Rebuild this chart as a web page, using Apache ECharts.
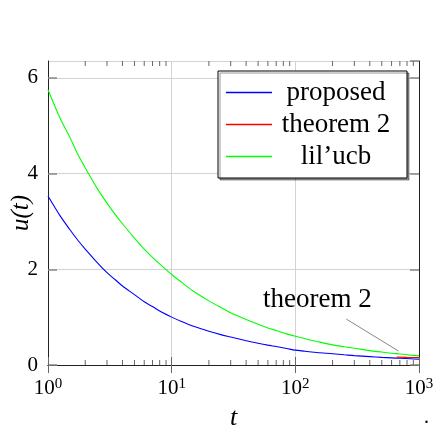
<!DOCTYPE html>
<html>
<head>
<meta charset="utf-8">
<script src="https://cdn.jsdelivr.net/npm/echarts@6/dist/echarts.min.js"></script>
<style>
  html, body { margin: 0; padding: 0; background: #fff; }
  #main { width: 435px; height: 432px; }
</style>
</head>
<body>
<div id="main"></div>
<script>
var myChart = echarts.init(document.getElementById('main'));

// t values read along the log axis
var tValues = [1, 1.25, 1.5, 1.75, 2, 2.5, 3, 3.5, 4, 5, 6, 7, 8.5, 10, 12, 15, 20, 25, 30, 40, 50, 60, 70, 85,
    100, 120, 150, 200, 250, 300, 400, 500, 600, 700, 850, 1000];
var proposed = [3.53, 3.12, 2.83, 2.60, 2.42, 2.14, 1.93, 1.78, 1.65, 1.47, 1.32, 1.22, 1.09, 1.00, 0.91, 0.81, 0.705, 0.635, 0.585, 0.505, 0.455, 0.415, 0.385, 0.345,
    0.31, 0.288, 0.26, 0.235, 0.213, 0.195, 0.175, 0.16, 0.149, 0.14, 0.129, 0.12];
var lilucb = [5.75, 5.16, 4.76, 4.39, 4.12, 3.69, 3.38, 3.14, 2.95, 2.65, 2.42, 2.25, 2.05, 1.89, 1.73, 1.54, 1.34, 1.20, 1.09, 0.95, 0.85, 0.775, 0.72, 0.65,
    0.60, 0.548, 0.49, 0.42, 0.38, 0.35, 0.30, 0.27, 0.245, 0.23, 0.206, 0.19];
var theoremT = [660, 800, 1000];
var theorem2 = [0.165, 0.16, 0.155];

var xExponents = ['0', '1', '2', '3'];
var yTicks = [0, 2, 4, 6];
var minorTicks = [2, 3, 4, 5, 6, 7, 8, 9, 20, 30, 40, 50, 60, 70, 80, 90, 200, 300, 400, 500, 600, 700, 800, 900];

// annotation "theorem 2" (data coords)
var noteText = [151, 1.36];
var notePin = [[684, 0.29], [258, 0.96]];

var serif = '"Liberation Serif", "DejaVu Serif", serif';

function pairs(xs, ys) {
    return xs.map(function (x, i) { return [x, ys[i]]; });
}

option = {
    animation: false,
    backgroundColor: '#fff',
    grid: {
        left: 48,
        right: 16,
        top: 61,
        bottom: 67,
        containLabel: false,
        outerBoundsMode: 'none'
    },
    legend: {
        orient: 'vertical',
        left: 218,
        top: 71,
        padding: [8, 12, 8, 8],
        icon: 'rect',
        itemWidth: 46,
        itemHeight: 1.5,
        itemGap: 5,
        itemTextGap: 6,
        borderColor: '#000',
        borderWidth: 1,
        borderRadius: 0,
        backgroundColor: '#fff',
        shadowColor: 'rgba(0,0,0,0.4)',
        shadowBlur: 0,
        shadowOffsetX: 2,
        shadowOffsetY: 2,
        data: ['proposed', 'theorem 2', 'lil\u2019ucb'],
        formatter: function (name) { return '{c|' + name + '}'; },
        textStyle: {
            fontFamily: serif,
            fontSize: 27,
            color: '#000',
            rich: {
                c: { width: 118, align: 'center', fontFamily: serif, fontSize: 27, lineHeight: 28 }
            }
        }
    },
    xAxis: [
        {
            type: 'log',
            logBase: 10,
            min: 1,
            max: 1000,
            name: 't',
            nameLocation: 'middle',
            nameGap: 40,
            nameMoveOverlap: false,
            nameTextStyle: { fontFamily: serif, fontStyle: 'italic', fontSize: 26, color: '#000' },
            axisLine: { show: true, lineStyle: { color: '#222', width: 1 } },
            axisTick: { show: true, inside: true, length: 8, lineStyle: { color: '#666' } },
            splitLine: { show: true, lineStyle: { color: '#d3d3d3', width: 1 } },
            axisLabel: {
                margin: 12,
                formatter: function (v, i) { return '{b|10}{s|' + xExponents[i] + '}'; },
                rich: {
                    b: { fontFamily: serif, fontSize: 21, color: '#000', verticalAlign: 'bottom', lineHeight: 22 },
                    s: { fontFamily: serif, fontSize: 15, color: '#000', verticalAlign: 'top', lineHeight: 22, padding: [0, 0, 8, 0] }
                }
            }
        },
        {
            type: 'log',
            logBase: 10,
            min: 1,
            max: 1000,
            position: 'top',
            axisLine: { show: true, lineStyle: { color: '#222', width: 1 } },
            axisTick: { show: true, inside: true, length: 8, lineStyle: { color: '#666' } },
            axisLabel: { show: false },
            splitLine: { show: false }
        }
    ],
    yAxis: [
        {
            type: 'value',
            min: 0,
            max: 6.35,
            interval: 2,
            name: 'u(t)',
            nameLocation: 'middle',
            nameGap: 14,
            nameMoveOverlap: false,
            nameTextStyle: { fontFamily: serif, fontStyle: 'italic', fontSize: 25, color: '#000' },
            axisLine: { show: true, lineStyle: { color: '#222', width: 1 } },
            axisTick: { show: true, inside: true, length: 9, lineStyle: { color: '#888', width: 1.5 } },
            splitLine: { show: true, lineStyle: { color: '#d3d3d3', width: 1 } },
            axisLabel: {
                margin: 10,
                showMaxLabel: false,
                fontFamily: serif,
                fontSize: 21,
                color: '#000',
                formatter: function (v) { return yTicks.indexOf(v) >= 0 ? String(v) : ''; }
            }
        },
        {
            type: 'value',
            min: 0,
            max: 6.35,
            interval: 2,
            position: 'right',
            axisLine: { show: true, lineStyle: { color: '#222', width: 1 } },
            axisTick: { show: true, inside: true, length: 9, lineStyle: { color: '#888', width: 1.5 } },
            axisLabel: { show: false },
            splitLine: { show: false }
        }
    ],
    series: [
        {
            name: 'proposed',
            type: 'line',
            data: pairs(tValues, proposed),
            smooth: 0.3,
            symbol: 'none',
            lineStyle: { color: '#0000ff', width: 1.1 },
            itemStyle: { color: '#0000ff' },
            z: 3
        },
        {
            name: 'theorem 2',
            type: 'line',
            data: pairs(theoremT, theorem2),
            symbol: 'none',
            lineStyle: { color: '#ff0000', width: 1.1 },
            itemStyle: { color: '#ff0000' },
            z: 3,
            markPoint: {
                symbol: 'circle',
                symbolSize: 0,
                silent: true,
                label: {
                    show: true,
                    position: 'inside',
                    formatter: 'theorem 2',
                    fontFamily: serif,
                    fontSize: 27,
                    color: '#000'
                },
                data: [{ coord: noteText }]
            },
            markLine: {
                silent: true,
                symbol: 'none',
                label: { show: false },
                lineStyle: { color: '#888', width: 1, type: 'solid' },
                data: [[{ coord: notePin[0] }, { coord: notePin[1] }]]
            }
        },
        {
            name: 'lil\u2019ucb',
            type: 'line',
            data: pairs(tValues, lilucb),
            smooth: 0.3,
            symbol: 'none',
            lineStyle: { color: '#00ff00', width: 1.1 },
            itemStyle: { color: '#00ff00' },
            z: 3
        },
        {
            // minor ticks of the log axis, top and bottom, drawn inward
            type: 'custom',
            silent: true,
            z: 1,
            data: minorTicks.map(function (v) { return [v, 0]; }),
            renderItem: function (params, api) {
                var p = api.coord([api.value(0), 0]);
                var cs = params.coordSys;
                var yb = cs.y + cs.height;
                var yt = cs.y;
                var st = { stroke: '#666', lineWidth: 1 };
                return {
                    type: 'group',
                    children: [
                        { type: 'line', shape: { x1: p[0], y1: yb, x2: p[0], y2: yb - 5 }, style: st },
                        { type: 'line', shape: { x1: p[0], y1: yt, x2: p[0], y2: yt + 5 }, style: st }
                    ]
                };
            }
        }
    ],
    graphic: [
        { type: 'text', right: 6, bottom: 4, style: { text: '.', font: '20px ' + serif, fill: '#000' } }
    ]
};
myChart.setOption(option);
</script>
</body>
</html>
